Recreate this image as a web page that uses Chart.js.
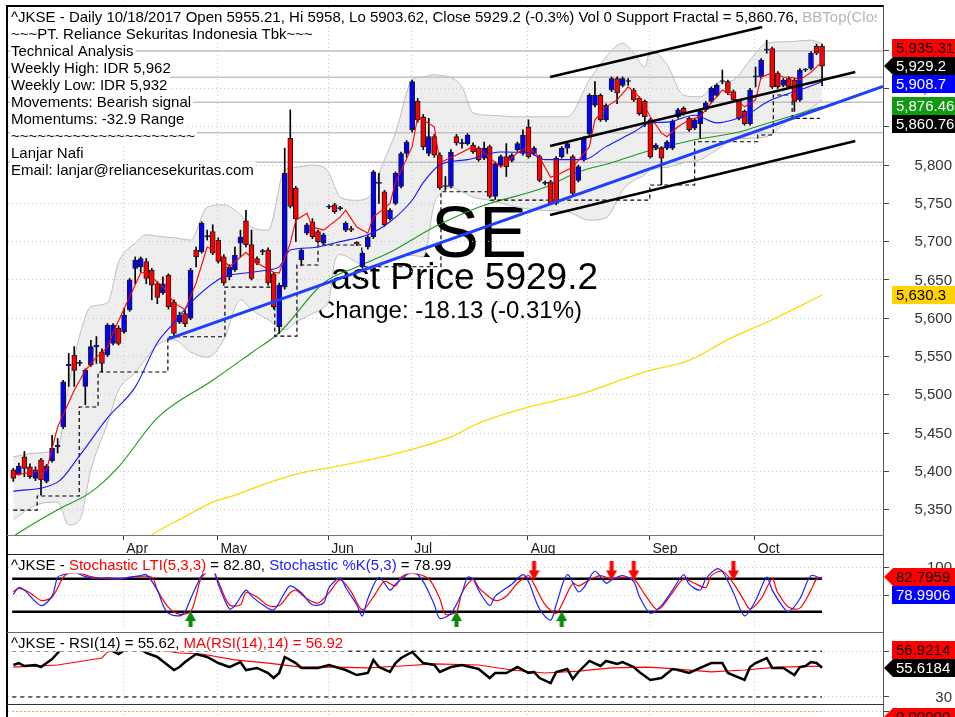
<!DOCTYPE html>
<html><head><meta charset="utf-8">
<script src="https://cdn.jsdelivr.net/npm/chart.js@4.4.0/dist/chart.umd.min.js"></script>
<style>
html,body{margin:0;padding:0;background:#fff;width:955px;height:717px;overflow:hidden}
canvas{position:absolute;left:0}
</style></head><body>
<canvas id="cMain" width="955" height="555" style="top:0;width:955px;height:555px"></canvas>
<canvas id="cSto" width="955" height="78" style="top:555px;width:955px;height:78px"></canvas>
<canvas id="cRsi" width="955" height="72" style="top:633px;width:955px;height:72px"></canvas>
<canvas id="cBot" width="955" height="12" style="top:705px;width:955px;height:12px"></canvas>
<script>
// ---------------- DATA ----------------
const monthLabels = ['Apr','May','Jun','Jul','Aug','Sep','Oct'];
const monthStart  = [20, 37, 57, 72, 93, 115, 134];   // bar index of first trading day
const yTicksMain  = [5350,5400,5450,5500,5550,5600,5650,5700,5750,5800,5850,5900,5950];
const yTicksStoch = [50,100];
const yTicksRsi   = [30,70];

const opens = [5402,5397,5419,5406,5391,5415,5387,5414,5432,5458,
5538,5552,5541,5511,5539,5563,5556,5552,5567,5587,
5582,5611,5665,5667,5674,5663,5645,5633,5656,5621,
5595,5606,5600,5689,5687,5706,5713,5702,5680,5654,
5663,5698,5727,5696,5678,5687,5689,5658,5589,5641,
5835,5770,5676,5711,5726,5713,5698,5745,5748,5743,
5715,5717,5699,5667,5693,5706,5776,5765,5730,5750,
5772,5815,5846,5883,5863,5815,5837,5813,5772,5772,
5837,5828,5828,5826,5822,5809,5824,5759,5800,5811,
5806,5820,5815,5850,5815,5811,5776,5778,5809,5811,
5822,5811,5780,5807,5841,5878,5891,5859,5898,5913,
5904,5909,5898,5887,5883,5859,5822,5822,5822,5822,
5863,5874,5861,5848,5854,5872,5883,5891,5909,5909,
5896,5883,5870,5854,5915,5915,5950,5952,5920,5904,
5913,5911,5885,5924,5926,5955,5955.21];
const highs = [5404,5411,5426,5410,5406,5417,5409,5447,5443,5519,
5554,5563,5545,5534,5571,5576,5560,5593,5593,5590,
5613,5652,5680,5680,5678,5665,5648,5654,5658,5624,
5608,5610,5665,5693,5726,5715,5722,5705,5683,5670,
5693,5715,5741,5715,5680,5690,5692,5660,5646,5822,
5872,5772,5691,5724,5730,5715,5711,5748,5750,5746,
5726,5720,5700,5687,5708,5793,5789,5767,5743,5791,
5817,5832,5911,5887,5866,5861,5840,5816,5785,5820,
5840,5834,5841,5829,5824,5830,5826,5804,5813,5828,
5815,5830,5846,5859,5824,5813,5779,5780,5811,5824,
5830,5813,5800,5837,5893,5909,5893,5880,5915,5915,
5915,5913,5900,5889,5885,5861,5828,5824,5832,5859,
5874,5876,5863,5861,5872,5883,5902,5906,5924,5911,
5898,5885,5872,5900,5928,5939,5963,5954,5922,5913,
5915,5913,5926,5926,5948,5958,5958];
const lows = [5387,5395,5393,5391,5388,5369,5385,5412,5424,5456,
5511,5511,5538,5487,5537,5541,5530,5550,5565,5565,
5580,5609,5645,5660,5645,5624,5619,5631,5612,5576,
5593,5589,5598,5667,5685,5702,5683,5672,5643,5650,
5661,5680,5693,5650,5670,5683,5643,5612,5580,5638,
5744,5700,5669,5709,5704,5698,5696,5743,5737,5741,
5713,5713,5695,5665,5690,5704,5750,5720,5728,5748,
5770,5810,5843,5856,5820,5812,5810,5768,5767,5770,
5826,5822,5826,5815,5805,5807,5757,5755,5798,5785,
5804,5818,5813,5809,5813,5778,5774,5748,5748,5809,
5815,5761,5778,5805,5839,5876,5857,5857,5896,5880,
5902,5904,5883,5865,5850,5809,5820,5774,5820,5820,
5861,5865,5844,5846,5835,5870,5881,5889,5906,5892,
5883,5859,5852,5852,5902,5913,5946,5900,5900,5902,
5900,5870,5883,5922,5924,5944,5903.62];
const closes = [5391,5407,5404,5393,5402,5389,5407,5430,5434,5517,
5540,5532,5542,5532,5563,5565,5541,5591,5591,5567,
5604,5650,5676,5678,5652,5643,5627,5645,5615,5580,
5604,5593,5663,5680,5724,5708,5685,5674,5646,5667,
5682,5706,5696,5652,5672,5688,5646,5615,5643,5789,
5746,5730,5689,5722,5706,5700,5709,5746,5739,5744,
5724,5715,5697,5685,5706,5791,5777,5722,5741,5789,
5815,5830,5909,5859,5824,5837,5813,5770,5773,5817,
5829,5829,5839,5817,5807,5822,5759,5802,5811,5798,
5813,5828,5839,5811,5822,5780,5777,5750,5750,5822,
5828,5763,5798,5835,5891,5891,5859,5878,5913,5894,
5913,5910,5885,5867,5863,5811,5826,5809,5830,5857,
5872,5867,5846,5859,5870,5881,5900,5904,5910,5894,
5885,5861,5854,5898,5916,5937,5951,5902,5902,5911,
5902,5883,5924,5925,5946,5946,5929.2];

// moving averages: [bar index, value]
const redMA = [[0,5395],[6,5402],[8,5458],[11,5506],[13,5532],[15,5549],[17,5562],[18,5581],[21,5628],[23,5659],[24,5660],[27,5641],[29,5620],[31,5611],[33,5646],[35,5693],[37,5686],[39,5667],[42,5686],[44,5672],[47,5660],[48,5659],[50,5698],[51,5728],[53,5737],[54,5719],[56,5715],[59,5732],[60,5741],[62,5719],[64,5711],[65,5732],[68,5750],[69,5777],[72,5824],[73,5863],[76,5850],[77,5803],[80,5813],[83,5824],[85,5816],[88,5797],[91,5816],[93,5824],[95,5810],[97,5784],[99,5790],[101,5797],[104,5824],[105,5859],[107,5876],[109,5885],[111,5902],[113,5889],[115,5863],[117,5842],[118,5837],[120,5850],[122,5859],[124,5863],[126,5881],[128,5898],[130,5889],[132,5876],[134,5885],[135,5915],[137,5920],[139,5915],[141,5914],[142,5911],[144,5921],[146,5935]];
const blueMA = [[0,5374],[8,5386],[12,5421],[17,5470],[22,5510],[26,5568],[29,5594],[32,5620],[38,5654],[42,5659],[46,5663],[48,5667],[50,5689],[54,5692],[59,5700],[64,5709],[68,5726],[72,5754],[74,5777],[77,5800],[82,5807],[88,5817],[93,5816],[96,5807],[103,5807],[107,5824],[112,5843],[115,5855],[118,5856],[123,5865],[127,5855],[130,5859],[133,5868],[136,5882],[139,5891],[142,5898],[146,5908.7]];
const greenMA = [[0,5315],[1,5320],[8,5350],[14,5373],[19,5406],[26,5470],[36,5519],[43,5555],[48,5581],[56,5646],[62,5667],[68,5686],[76,5719],[84,5745],[96,5771],[102,5791],[108,5803],[114,5817],[123,5833],[131,5843],[135,5852],[141,5865],[146,5876.46]];
const yellowMA = [[23,5305],[25,5317],[31,5341],[36,5360],[40,5369],[46,5385],[52,5398],[58,5406],[70,5425],[79,5445],[84,5463],[93,5484],[102,5500],[114,5530],[122,5545],[129,5572],[137,5598],[146,5630.3]];

// Bollinger cloud
const bbX   = [0,4,8,10,12,14,17,19,22,24,26,29,32,35,38,41,43,46,49,51,54,56,57,58,59,62,64,67,69,72,74,76,77,79,81,83,86,91,95,100,104,107,110,112,114,115,118,121,124,127,130,133,136,140,144,146];
const bbTop = [5419,5424,5431,5513,5578,5615,5620,5673,5698,5709,5707,5705,5702,5745,5748,5735,5719,5715,5794,5797,5800,5797,5790,5772,5758,5754,5757,5807,5842,5911,5915,5918,5917,5914,5902,5868,5865,5863,5863,5863,5911,5941,5959,5946,5928,5950,5931,5891,5889,5907,5911,5937,5959,5961,5963,5959];
const bbBot = [5337,5356,5360,5330,5337,5402,5463,5506,5529,5548,5565,5572,5556,5549,5572,5624,5611,5598,5585,5595,5606,5614,5624,5673,5683,5673,5666,5670,5679,5682,5680,5750,5762,5771,5765,5758,5754,5745,5741,5739,5728,5731,5767,5780,5787,5794,5797,5803,5807,5820,5833,5835,5837,5859,5874,5885];

// support fractal (step line)
const fractalX = [0,4.3,11.9,15.3,27.9,38.2,47.2,51.2,55,62.9,77.2,86.1,114.9,123,134.4,137.2,140.6,145.6];
const fractalY = [5349.6,5367.9,5484.1,5529.8,5575.8,5640.7,5576.7,5669.5,5695.6,5667.2,5765.1,5754.3,5773.9,5830.4,5839.2,5891.4,5860.8,5860.8];

// drawn lines
const supportLevels = [5949,5914.5,5882,5842,5803.5];
const trendBlue  = [[27.9,5572.8],[157,5902.5]];
const channelTop = [[96.9,5914.9],[135.2,5980.2]];
const channelMid = [[96.9,5824.8],[152,5921.4]];
const channelBot = [[96.9,5734.7],[152,5831.3]];

// stochastic
const stochK = [[0,51.6],[1,64.1],[2,59.4],[5,31.3],[7,48.4],[8,82.8],[9,87.5],[11,92],[13,84],[15,80],[17,82],[19,79],[21,83],[23,86],[24,87.5],[26,59.4],[27,32.8],[28,17.2],[30,12.5],[31,20.3],[32,43.8],[34,85.9],[35,95.3],[36,98],[37,70.3],[39,25],[40,31.3],[42,59.4],[43,48.4],[45,32.8],[47,23.4],[49,54.7],[50,67.2],[52,54.7],[54,32.8],[56,35.9],[57,64.1],[59,81.3],[60,64.1],[62,32.8],[63,12.5],[64,43.8],[66,82.8],[68,59.4],[69,70.3],[71,87.5],[72,95],[74,75],[76,32.8],[77,7.8],[79,17.2],[81,54.7],[82,82.8],[83,79.7],[84,59.4],[86,31.3],[87,48.4],[90,70.3],[92,87.5],[93,75],[95,25],[97,4.7],[98,32.8],[100,87.5],[102,56.3],[103,64.1],[105,93.8],[107,71.9],[108,78.1],[110,85.9],[112,75],[113,48.4],[115,17.2],[117,31.3],[119,59.4],[121,87.5],[122,70.3],[124,59.4],[125,79.7],[127,98.4],[128,93.8],[130,54.7],[132,12.5],[134,40.6],[136,82.8],[137,59.4],[139,28.1],[140,20.3],[142,43.8],[144,85.9],[146,78.99]];
const stochLTI = [[0,56.3],[1,62.5],[3,54.7],[5,40.6],[7,46.9],[9,82.8],[10,90],[12,90],[14,84],[16,81],[18,80],[20,81],[22,84],[25,82.8],[26,59.4],[28,28.1],[30,15.6],[32,20.3],[33,48.4],[34,82.8],[36,95],[37,75],[39,32.8],[41,32.8],[42,54.7],[44,46.9],[46,31.3],[48,31.3],[50,54.7],[51,59.4],[53,43.8],[55,35.9],[57,54.7],[59,78.1],[61,56.3],[63,23.4],[65,46.9],[67,75],[69,67.2],[70,82.8],[72,90],[75,79.7],[77,43.8],[78,15.6],[80,20.3],[81,54.7],[83,79.7],[84,64.1],[85,54.7],[87,40.6],[89,48.4],[91,71.9],[93,85.9],[94,70.3],[96,32.8],[98,17.2],[99,32.8],[101,71.9],[102,67.2],[104,78.1],[106,85.9],[108,79.7],[110,82.8],[112,79.7],[114,51.6],[116,25],[117,28.1],[119,54.7],[121,79.7],[123,71.9],[125,64.1],[126,85.9],[128,93.8],[130,71.9],[132,39.1],[133,25],[135,43.8],[137,79.7],[138,54.7],[140,28.1],[142,26.6],[144,59.4],[145,79.7],[146,82.8]];
const stochLevels = [80,20];
const sellArrowIdx = [94,108,112,130];
const buyArrowIdx  = [32,80,99];

// RSI
const rsi = [[0,58],[1,59.7],[2,57.1],[4,58],[5,56.2],[6,59.7],[7,63.2],[8,68.5],[10,79],[13,80],[16,75],[19,67.6],[21,74],[23,72],[24,68.5],[26,65],[29,53.6],[30,56.2],[31,60.6],[33,67.6],[35,65],[37,59.7],[39,56.2],[41,60.6],[42,53.6],[44,55.4],[46,51],[47,46.6],[48,51],[49,65],[51,59.7],[52,55.4],[55,55.4],[57,58],[60,53.6],[62,49.2],[64,51],[65,62.4],[66,56.2],[68,51.9],[69,59.7],[70,64.1],[72,69.4],[74,59.7],[76,58],[77,51.9],[79,56.2],[81,58],[84,54.5],[86,46.6],[87,51],[89,51],[91,56.2],[93,51],[94,51.9],[95,46.6],[97,42.2],[98,51.9],[100,54.5],[101,45.7],[102,51.9],[104,61.5],[106,57.1],[107,61.5],[109,58.9],[110,60.6],[112,56.2],[113,51.9],[115,44.9],[117,46.6],[119,54.5],[120,53.6],[122,51],[124,55.4],[126,59.7],[128,59.7],[129,51],[132,44.9],[133,56.2],[134,59.7],[136,64.1],[137,55.4],[139,55.4],[141,49.2],[142,56.2],[143,57.1],[144,60.6],[145,59.7],[146,55.62]];
const rsiMA = [[0,56.2],[8,58],[16,64.1],[17,69.4],[21,72],[25,72],[30,68.5],[34,67.6],[40,62.4],[46,59.7],[52,56.2],[58,56.2],[64,55.4],[70,57.1],[76,58.9],[84,58],[90,53.6],[96,51],[102,52.7],[108,55.4],[114,56.2],[117,55.4],[126,51.9],[132,53.6],[138,56.2],[146,56.92]];
const rsiLevels = [70,30];

// last-value labels
const mainLast  = [5935.31, 5929.2, 5908.7, 5876.46, 5860.76, 5630.3];
const stochLast = [82.7959, 78.9906];
const rsiLast   = [56.9214, 55.6184];

// ---------------- DRAWING ----------------
const FONT = '"Liberation Sans", Arial, Helvetica, sans-serif';
Chart.defaults.font.family = FONT;
const UP = '#0000ff', DOWN = '#ff0000';
const X_MIN = -0.96, X_MAX = 157.0;

function pts(a){ return a.map(p => ({x:p[0], y:p[1]})); }
function line(a, color, width, order, extra){
  return Object.assign({type:'line', data:pts(a), borderColor:color, backgroundColor:color, borderWidth:width,
    pointRadius:0, pointHoverRadius:0, fill:false, tension:0, order:order}, extra || {});
}
function xScale(show){
  return {type:'linear', min:X_MIN, max:X_MAX, offset:false,
    afterBuildTicks: s => { s.ticks = monthStart.map(v => ({value: v - 0.15})); },
    afterFit: s => { s.height = show ? 20 : 0; },
    ticks:{display:show, autoSkip:false, maxRotation:0, minRotation:0, align:'start', labelOffset:3, padding:1,
      color:'#1a1a1a', font:{family:FONT, size:14}, callback:(v,i) => monthLabels[i]},
    grid:{display:true, offset:false, color:'#c9c9c9', lineWidth:1, drawTicks:show, tickLength:5, tickColor:'#333', tickWidth:1},
    border:{display:false, dash:[1,3]}};
}
function yScale(min, max, ticks){
  return {type:'linear', position:'right', min:min, max:max, beginAtZero:false,
    afterBuildTicks: s => { s.ticks = ticks.map(v => ({value:v})); },
    afterFit: s => { s.width = 72; },
    ticks:{display:false},
    grid:{color:'#c9c9c9', lineWidth:1, drawTicks:true, tickLength:6, tickColor:'#444', tickWidth:1},
    border:{display:true, color:'#555', width:1, dash:[1,3]}};
}
const common = {responsive:false, maintainAspectRatio:false, animation:false, devicePixelRatio:1, events:[],
  plugins:{legend:{display:false}, tooltip:{enabled:false}}};

function drawRuns(ctx, x, y, runs, maxX){
  ctx.save();
  ctx.font = '15px ' + FONT; ctx.textBaseline = 'middle'; ctx.textAlign = 'left';
  let w = 0; runs.forEach(r => w += ctx.measureText(r.t).width);
  let right = x + w + 2; if (maxX) right = Math.min(right, maxX);
  ctx.fillStyle = '#fff'; ctx.fillRect(x - 1, y - 8.5, right - x + 1, 17);
  ctx.beginPath(); ctx.rect(0, 0, maxX || 2000, 2000); ctx.clip();
  let cx = x;
  runs.forEach(r => { ctx.fillStyle = r.c; ctx.fillText(r.t, cx, y + 0.5); cx += ctx.measureText(r.t).width; });
  ctx.restore();
}
function drawYLabels(chart, values, fmt){
  const s = chart.scales.y, ctx = chart.ctx;
  ctx.save(); ctx.font = '15px ' + FONT; ctx.fillStyle = '#333'; ctx.textAlign = 'right'; ctx.textBaseline = 'middle';
  values.forEach(v => ctx.fillText(fmt(v), 952, s.getPixelForValue(v) + 0.5));
  ctx.restore();
}
function drawBoxes(chart, items){
  const s = chart.scales.y, ctx = chart.ctx, H = 18;
  items.forEach(it => it.ny = s.getPixelForValue(it.v) + (it.dy || 0));
  const sorted = items.slice().sort((a,b) => a.ny - b.ny);
  const ai = Math.max(0, sorted.findIndex(it => it.arrow));
  sorted[ai].y = sorted[ai].ny;
  for (let i = ai - 1; i >= 0; i--) sorted[i].y = Math.min(sorted[i].ny, sorted[i+1].y - H);
  for (let i = ai + 1; i < sorted.length; i++) sorted[i].y = Math.max(sorted[i].ny, sorted[i-1].y + H);
  ctx.save();
  sorted.forEach(it => {
    const y = Math.round(it.y);
    ctx.fillStyle = it.bg; ctx.beginPath();
    if (it.arrow) { ctx.moveTo(884, y); ctx.lineTo(893, y - 9); ctx.lineTo(955, y - 9); ctx.lineTo(955, y + 9); ctx.lineTo(893, y + 9); ctx.closePath(); }
    else ctx.rect(892, y - 9, 63, 18);
    ctx.fill();
    ctx.fillStyle = it.fg; ctx.font = '15px ' + FONT; ctx.textAlign = 'left'; ctx.textBaseline = 'middle';
    ctx.fillText(it.t, 896, y + 1);
  });
  ctx.restore();
}
function hline(ctx, x1, x2, y, color, w){ ctx.save(); ctx.strokeStyle = color; ctx.lineWidth = w; ctx.beginPath(); ctx.moveTo(x1, y); ctx.lineTo(x2, y); ctx.stroke(); ctx.restore(); }
function vline(ctx, x, y1, y2, color, w){ ctx.save(); ctx.strokeStyle = color; ctx.lineWidth = w; ctx.beginPath(); ctx.moveTo(x, y1); ctx.lineTo(x, y2); ctx.stroke(); ctx.restore(); }
function arrowImg(color, down){
  const c = document.createElement('canvas'); c.width = 11; c.height = 19;
  const g = c.getContext('2d'); g.fillStyle = color;
  if (down) { g.fillRect(3.5, 0, 4, 10); g.beginPath(); g.moveTo(0, 9); g.lineTo(11, 9); g.lineTo(5.5, 19); g.closePath(); g.fill(); }
  else { g.beginPath(); g.moveTo(5.5, 0); g.lineTo(11, 10); g.lineTo(0, 10); g.closePath(); g.fill(); g.fillRect(3.5, 9, 4, 10); }
  return c;
}
const fmtThousands = v => v.toLocaleString('en-US');

// ---------- main price pane ----------
const titleRuns = [
  {t:'^JKSE - Daily 10/18/2017 Open 5955.21, Hi 5958, Lo 5903.62, Close 5929.2 (-0.3%) Vol 0 Support Fractal = 5,860.76, ', c:'#000'},
  {t:'BBTop(Close,15,2) = 5,959.31', c:'#b4b4b4'}];
const infoLines = ['~~~PT. Reliance Sekuritas Indonesia Tbk~~~','Technical Analysis','Weekly High: IDR 5,962','Weekly Low: IDR 5,932',
  'Movements: Bearish signal','Momentums: -32.9 Range','~~~~~~~~~~~~~~~~~~~~~','Lanjar Nafi','Email: lanjar@reliancesekuritas.com'];

const mainPlugin = {
  id:'mainDeco',
  beforeDatasetsDraw(chart){
    const ctx = chart.ctx; ctx.save(); ctx.fillStyle = '#000'; ctx.textBaseline = 'alphabetic'; ctx.textAlign = 'right';
    ctx.font = '72px ' + FONT; ctx.fillText('^JKSE', 527, 257);
    ctx.font = '37px ' + FONT; ctx.fillText('Last Price 5929.2', 598, 289);
    ctx.font = '24px ' + FONT; ctx.fillText('Change: -18.13 (-0.31%)', 582, 318);
    ctx.restore();
  },
  afterDatasetDraw(chart, args){
    if (chart.data.datasets[args.index].regrid) {
      chart.scales.x.drawGrid(chart.chartArea); chart.scales.y.drawGrid(chart.chartArea);
    }
  },
  afterDatasetsDraw(chart){
    const ctx = chart.ctx;
    drawRuns(ctx, 11, 17, titleRuns, 877);
    infoLines.forEach((t, i) => drawRuns(ctx, 11, 34 + 17 * i, [{t:t, c:'#000'}]));
  },
  afterDraw(chart){
    const ctx = chart.ctx, a = chart.chartArea;
    drawYLabels(chart, yTicksMain, fmtThousands);
    drawBoxes(chart, [
      {v:mainLast[0], t:'5,935.31', bg:'#ff0000', fg:'#000'},
      {v:mainLast[1], t:'5,929.2',  bg:'#000',    fg:'#fff', arrow:true},
      {v:mainLast[2], t:'5,908.7',  bg:'#0000ff', fg:'#fff'},
      {v:mainLast[3], t:'5,876.46', bg:'#119911', fg:'#fff'},
      {v:mainLast[4], t:'5,860.76', bg:'#000',    fg:'#fff'},
      {v:mainLast[5], t:'5,630.3',  bg:'#ffd200', fg:'#000'}]);
    hline(ctx, 6, 884, 6, '#000', 2);
    vline(ctx, 7, 5, 555, '#000', 2);
    vline(ctx, 883.5, 6, 555, '#555', 1);
    hline(ctx, 7, 884, a.bottom + 0.5, '#777', 1);
    hline(ctx, 7, 884, 554.5, '#222', 1);
  }
};

const bodies = opens.map((o, i) => ({x:i, y:[o, closes[i]]}));
const wicks  = lows.map((l, i) => ({x:i, y:[l, highs[i]]}));

new Chart(document.getElementById('cMain'), {
  type:'bar',
  data:{datasets:[
    line(bbX.map((x,i)=>[x,bbTop[i]]), '#bdbdbd', 1, 100, {fill:'+1', backgroundColor:'#eeeeee', cubicInterpolationMode:'monotone'}),
    line(bbX.map((x,i)=>[x,bbBot[i]]), '#bdbdbd', 1, 99, {cubicInterpolationMode:'monotone', regrid:true}),
    ...supportLevels.map(v => line([[X_MIN,v],[X_MAX,v]], '#c2c2c2', 1.5, 90)),
    line(yellowMA, '#ffd800', 1.3, 85, {cubicInterpolationMode:'monotone'}),
    line(greenMA, '#1a9a1a', 1.1, 84, {cubicInterpolationMode:'monotone'}),
    line(fractalX.map((x,i)=>[x,fractalY[i]]), '#000', 1.2, 80, {stepped:true, borderDash:[4,3]}),
    {type:'bar', data:wicks, backgroundColor:'#000', borderWidth:0, barThickness:1, order:60},
    {type:'bar', data:bodies, backgroundColor: c => closes[c.dataIndex] >= opens[c.dataIndex] ? UP : DOWN,
      borderColor:'#1a1a1a', borderWidth:1, borderSkipped:false, barThickness:5, minBarLength:1, order:55},
    line(blueMA, '#1515ff', 1.1, 40, {cubicInterpolationMode:'monotone'}),
    line(redMA, '#ff0000', 1.1, 39),
    line(channelTop, '#000', 2.5, 20),
    line(channelMid, '#000', 2.5, 20),
    line(channelBot, '#000', 2.5, 20),
    line(trendBlue, '#1f3fff', 3, 19)
  ]},
  options:Object.assign({}, common, {
    layout:{padding:{left:8, top:7, right:0, bottom:0}},
    datasets:{bar:{grouped:false}},
    scales:{x:xScale(true), y:yScale(5317, 6006.3, yTicksMain)}
  }),
  plugins:[mainPlugin]
});

// ---------- stochastic pane ----------
new Chart(document.getElementById('cSto'), {
  type:'line',
  data:{datasets:[
    ...stochLevels.map(v => line([[-0.2,v],[146,v]], '#000', 2.5, 30)),
    line(stochLTI, '#ff0000', 1.2, 11, {tension:0.3}),
    line(stochK, '#2020ff', 1.2, 10, {tension:0.3}),
    {type:'scatter', data:sellArrowIdx.map(i => ({x:i, y:94.5})), pointStyle:arrowImg('#ff0000', true), pointRadius:5, order:0},
    {type:'scatter', data:buyArrowIdx.map(i => ({x:i, y:3.9})), pointStyle:arrowImg('#0a8a0a', false), pointRadius:5, order:0}
  ]},
  options:Object.assign({}, common, {
    layout:{padding:{left:8, top:1, right:0, bottom:0}},
    scales:{x:xScale(false), y:yScale(-7.8, 112.5, yTicksStoch)}
  }),
  plugins:[{
    id:'stoDeco',
    afterDatasetsDraw(chart){
      drawRuns(chart.ctx, 11, 10, [{t:'^JKSE - ', c:'#000'}, {t:'Stochastic LTI(5,3,3)', c:'#ff0000'}, {t:' = 82.80, ', c:'#000'},
        {t:'Stochastic %K(5,3)', c:'#2020ff'}, {t:' = 78.99', c:'#000'}]);
    },
    afterDraw(chart){
      const ctx = chart.ctx;
      drawYLabels(chart, yTicksStoch, v => String(v));
      drawBoxes(chart, [{v:stochLast[0], t:'82.7959', bg:'#ff0000', fg:'#000', arrow:true},
                        {v:stochLast[1], t:'78.9906', bg:'#0000ff', fg:'#fff'}]);
      vline(ctx, 7, 0, 78, '#000', 2);
      vline(ctx, 883.5, 0, 78, '#555', 1);
      hline(ctx, 7, 884, 77.5, '#666', 1);
    }
  }]
});

// ---------- RSI pane ----------
new Chart(document.getElementById('cRsi'), {
  type:'line',
  data:{datasets:[
    ...rsiLevels.map(v => line([[-0.2,v],[146,v]], '#222', 1.3, 30, {borderDash:[4,4]})),
    line(rsiMA, '#ff0000', 1.2, 11),
    line(rsi, '#000', 2.5, 10)
  ]},
  options:Object.assign({}, common, {
    layout:{padding:{left:8, top:1, right:0, bottom:0}},
    scales:{x:xScale(false), y:yScale(23.0, 85.1, yTicksRsi)}
  }),
  plugins:[{
    id:'rsiDeco',
    afterDatasetsDraw(chart){
      drawRuns(chart.ctx, 11, 10, [{t:'^JKSE - RSI(14) = 55.62, ', c:'#000'}, {t:'MA(RSI(14),14) = 56.92', c:'#ff0000'}]);
    },
    afterDraw(chart){
      const ctx = chart.ctx;
      drawYLabels(chart, yTicksRsi, v => String(v));
      drawBoxes(chart, [{v:rsiLast[0], t:'56.9214', bg:'#ff0000', fg:'#000'},
                        {v:rsiLast[1], t:'55.6184', bg:'#000', fg:'#fff', arrow:true}]);
      vline(ctx, 7, 0, 72, '#000', 2);
      vline(ctx, 883.5, 0, 72, '#555', 1);
      hline(ctx, 7, 884, 71.5, '#333', 1);
    }
  }]
});

// ---------- bottom pane ----------
new Chart(document.getElementById('cBot'), {
  type:'line',
  data:{datasets:[ line([[-0.2,0],[146,0]], '#ffa040', 1, 10, {borderDash:[2,2]}) ]},
  options:Object.assign({}, common, {
    layout:{padding:{left:8, top:1, right:0, bottom:0}},
    scales:{x:xScale(false), y:yScale(-1, 1, [0])}
  }),
  plugins:[{
    id:'botDeco',
    afterDraw(chart){
      const ctx = chart.ctx;
      drawBoxes(chart, [{v:0, t:'0.00000', bg:'#ff0000', fg:'#000', arrow:true, dy:5}]);
      vline(ctx, 7, 0, 12, '#000', 2);
      vline(ctx, 883.5, 0, 12, '#555', 1);
    }
  }]
});
</script>
</body></html>
